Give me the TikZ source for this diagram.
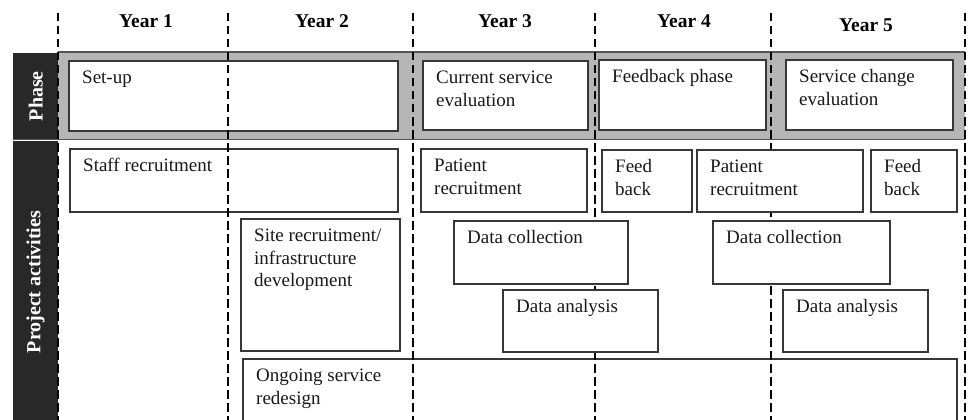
\documentclass[tikz,border=0pt]{standalone}
\usepackage{fontspec}
\setmainfont{Liberation Serif}
\definecolor{bandgray}{RGB}{182,182,182}
\definecolor{bandline}{RGB}{85,85,85}
\definecolor{boxline}{RGB}{55,55,55}
\definecolor{sidebg}{RGB}{40,40,40}
\definecolor{txt}{RGB}{25,25,25}
\tikzset{
  boxstyle/.style={draw=boxline, line width=1.3pt, fill=white, inner sep=0pt, outer sep=0pt},
  txtstyle/.style={inner sep=0pt, align=left, text=txt, font=\fontsize{19}{22.5}\selectfont},
  yearstyle/.style={inner sep=0pt, anchor=base, text=black, font=\fontsize{19.5}{23}\selectfont\bfseries},
  sidestyle/.style={inner sep=0pt, rotate=90, text=white, font=\fontsize{20}{24}\selectfont\bfseries},
  yearline/.style={black, line width=2.3pt, dash pattern=on 8.5pt off 4.5pt}
}
\newcommand{\mybox}[7]{%
  \node[#1, minimum width={(#5-#3)*1pt}, minimum height={(#6-#4)*1pt}, anchor=north west] (#2) at (#3,#4) {};
  \node[txtstyle, anchor=north west] (#2t) at ([shift={(13,7)}]#2.north west) {\strut #7};
}
\begin{document}
\begin{tikzpicture}[x=1pt,y=-1pt]
\useasboundingbox (0,0) rectangle (970,420);
% gray phase band
\fill[bandgray] (58,52) rectangle (965,140);
% side label boxes
\node[fill=sidebg, inner sep=0pt, minimum width=45pt, minimum height=86pt, anchor=north west] (phasebox) at (13,53) {};
\node[fill=sidebg, inner sep=0pt, minimum width=45pt, minimum height=285pt, anchor=north west] (projbox) at (13,140.5) {};
\node[sidestyle] (phaselbl) at (phasebox.center) {Phase};
\node[sidestyle] (projlbl) at (35.5,282) {Project activities};
\draw[bandline, line width=1.8pt] (58,52) -- (965,52);
\draw[bandline, line width=1.5pt] (13,139.5) -- (965,139.5);
% boxes crossed by the year lines
\mybox{boxstyle}{setup}{69}{61}{398}{131}{Set-up}
\mybox{boxstyle}{staff}{70}{149}{398}{212}{Staff recruitment}
\mybox{boxstyle}{osr}{243}{359}{957}{430}{Ongoing service\\redesign}
% year lines
\coordinate (t0) at (58,13);   \coordinate (b0) at (58,420);
\coordinate (t1) at (228,13);  \coordinate (b1) at (228,420);
\coordinate (t2) at (413,13);  \coordinate (b2) at (413,420);
\coordinate (t3) at (595,13);  \coordinate (b3) at (595,420);
\coordinate (t4) at (771,13);  \coordinate (b4) at (771,420);
\coordinate (t5) at (965,13);  \coordinate (b5) at (965,420);
\foreach \i in {0,...,5} { \draw[yearline] (t\i) -- (b\i); }
% year labels
\node[yearstyle] (y1) at (146,28) {Year 1};
\node[yearstyle] (y2) at (322,28) {Year 2};
\node[yearstyle] (y3) at (505,28) {Year 3};
\node[yearstyle] (y4) at (684,28) {Year 4};
\node[yearstyle] (y5) at (866,32) {Year 5};
% phase boxes
\mybox{boxstyle}{cse}{423}{61}{588}{130}{Current service\\evaluation}
\mybox{boxstyle}{fbp}{599}{60}{766}{130}{Feedback phase}
\mybox{boxstyle}{sce}{786}{60}{953}{130}{Service change\\evaluation}
% activity boxes
\mybox{boxstyle}{pra}{421}{149}{587}{212}{Patient\\recruitment}
\mybox{boxstyle}{fba}{602}{150}{692}{212}{Feed\\back}
\mybox{boxstyle}{prb}{697}{150}{863}{212}{Patient\\recruitment}
\mybox{boxstyle}{fbb}{871}{150}{957}{212}{Feed\\back}
\mybox{boxstyle}{site}{241}{219}{400}{351}{Site recruitment/\\infrastructure\\development}
\mybox{boxstyle}{dca}{454}{221}{628}{284}{Data collection}
\mybox{boxstyle}{dcb}{713}{221}{890}{284}{Data collection}
\mybox{boxstyle}{daa}{503}{290}{658}{352}{Data analysis}
\mybox{boxstyle}{dab}{783}{290}{928}{352}{Data analysis}
\end{tikzpicture}
\end{document}
